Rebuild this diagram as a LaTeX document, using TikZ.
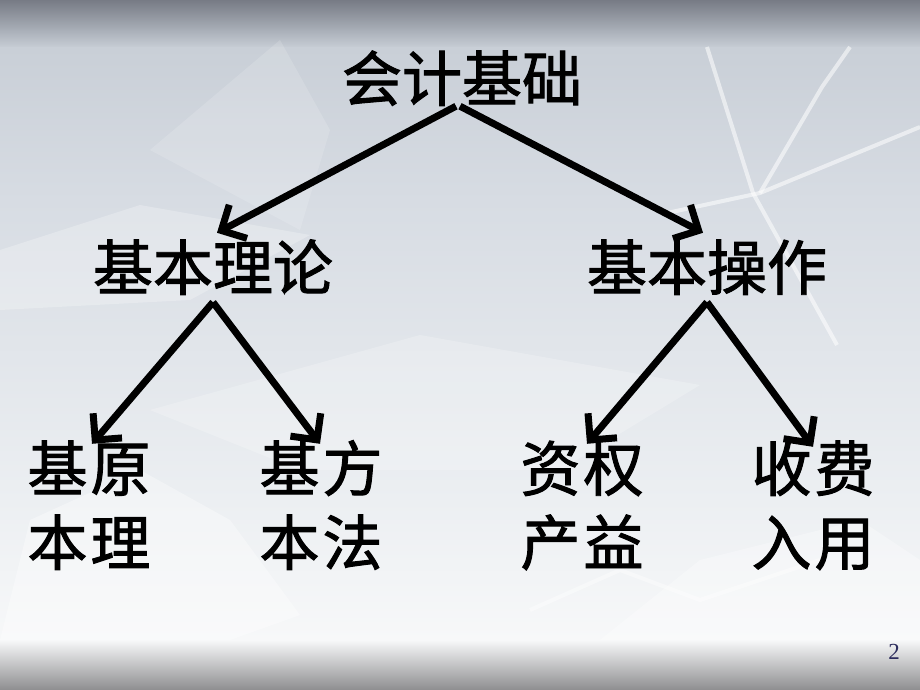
\documentclass[tikz,border=0pt]{standalone}
\usepackage{fontspec}
\newfontfamily\cjk[FakeBold=1.6]{Noto Sans CJK SC}
\newfontfamily\numfont{Liberation Serif}
\usetikzlibrary{arrows.meta}
\definecolor{bgA}{HTML}{777B85}
\definecolor{bgB}{HTML}{A9AFB8}
\definecolor{bgC}{HTML}{C9CFD7}
\definecolor{bgD}{HTML}{D7DCE3}
\definecolor{bgE}{HTML}{ECEFF2}
\definecolor{bgF}{HTML}{F7F8F9}
\definecolor{bgG}{HTML}{8E8E90}
\definecolor{pagenum}{HTML}{2B2B5C}
\begin{document}
\begin{tikzpicture}[x=1pt,y=-1pt,
  lbl/.style={font=\cjk\fontsize{60}{60}\selectfont, inner sep=0pt, text height=50pt, text depth=5pt, anchor=base},
  arr/.style={line width=7pt, -{Straight Barb[length=19pt,width=38pt]}},
  streak/.style={white, opacity=0.55, line width=4pt, line join=round},
  ice/.style={fill=white, draw=none}]
\useasboundingbox (0,0) rectangle (920,690);
% background bands
\shade[top color=bgA, bottom color=bgB] (0,0) rectangle (920,30.5);
\shade[top color=bgB, bottom color=bgC] (0,30) rectangle (920,48.5);
\shade[top color=bgC, bottom color=bgD] (0,48) rectangle (920,200.5);
\shade[top color=bgD, bottom color=bgE] (0,200) rectangle (920,500.5);
\shade[top color=bgE, bottom color=bgF] (0,500) rectangle (920,640.5);
\shade[top color=bgF, bottom color=bgG] (0,640) rectangle (920,690);
% faint icy shapes
\fill[ice, opacity=0.25] (0,250) -- (140,205) -- (310,235) -- (190,300) -- (0,310) -- cycle;
\fill[ice, opacity=0.22] (150,410) -- (420,335) -- (700,385) -- (560,470) -- (300,470) -- cycle;
\fill[ice, opacity=0.35] (0,640) -- (30,520) -- (140,470) -- (230,520) -- (300,615) -- (230,640) -- cycle;
\fill[ice, opacity=0.3] (600,640) -- (700,560) -- (860,520) -- (920,560) -- (920,640) -- cycle;
\fill[ice, opacity=0.15] (150,150) -- (280,40) -- (330,130) -- (300,230) -- cycle;
\draw[streak] (707,47) -- (753,193) -- (837,345);
\draw[streak] (850,47) -- (822,87) -- (760,193);
\draw[streak] (667,213) -- (760,193) -- (920,127);
\draw[streak, opacity=0.4] (530,610) -- (620,570) -- (700,600) -- (820,560);
% nodes
\node[lbl] (title) at (462,101) {会计基础};
\node[lbl] (theory) at (213,290) {基本理论};
\node[lbl] (oper) at (707,290) {基本操作};
\node[lbl] (b1) at (89,491) {基\hspace{3pt}原};
\node[lbl] (b1r) at (89,565) {本\hspace{3pt}理};
\node[lbl] (b2) at (321,491) {基\hspace{3pt}方};
\node[lbl] (b2r) at (321,565) {本\hspace{3pt}法};
\node[lbl] (b3) at (582,491) {资\hspace{3pt}权};
\node[lbl] (b3r) at (582,565) {产\hspace{3pt}益};
\node[lbl] (b4) at (813,491) {收\hspace{3pt}费};
\node[lbl] (b4r) at (813,565) {入\hspace{3pt}用};
\node[font=\numfont\fontsize{23}{23}\selectfont, text=pagenum, inner sep=0pt] (pg) at (894,652) {2};
% arrows
\draw[arr] ([xshift=-6]title.south) -- ([shift={(4,-7)}]theory.north);
\draw[arr] ([xshift=-2]title.south) -- ([shift={(-4,-7)}]oper.north);
\draw[arr] ([yshift=-7]theory.south) -- ([shift={(3,3)}]b1.north);
\draw[arr] ([yshift=-7]theory.south) -- ([shift={(-1,3)}]b2.north);
\draw[arr] ([yshift=-7]oper.south) -- ([shift={(5,3)}]b3.north);
\draw[arr] ([yshift=-7]oper.south) -- ([shift={(0,6)}]b4.north);
\end{tikzpicture}
\end{document}
